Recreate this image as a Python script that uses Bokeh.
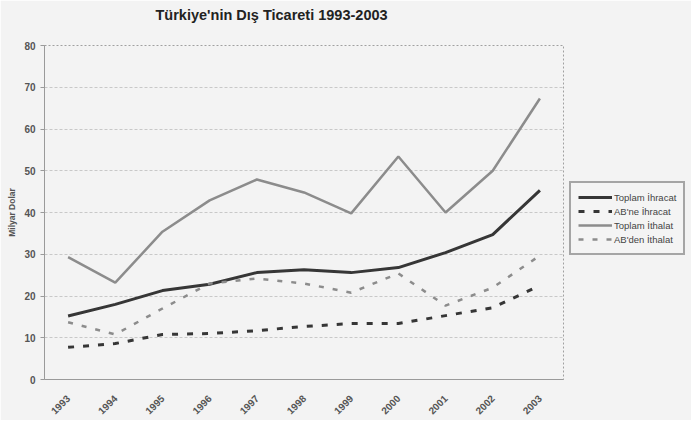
from bokeh.plotting import figure
from bokeh.models import FactorRange, Range1d, Legend, LegendItem, FixedTicker
from bokeh.embed import file_html
from bokeh.resources import INLINE
import math

years = ['1993', '1994', '1995', '1996', '1997', '1998', '1999', '2000', '2001', '2002', '2003']
toplam_ihracat = [15.2, 18.0, 21.3, 22.8, 25.6, 26.3, 25.6, 26.8, 30.4, 34.7, 45.3]
ab_ihracat = [7.7, 8.6, 10.8, 11.0, 11.7, 12.7, 13.4, 13.4, 15.3, 17.2, 22.5]
toplam_ithalat = [29.3, 23.2, 35.4, 42.9, 47.9, 44.8, 39.8, 53.4, 40.0, 50.0, 67.3]
ab_ithalat = [13.7, 10.8, 17.0, 23.0, 24.2, 23.0, 20.8, 25.4, 17.7, 22.0, 29.7]
y_ticks = [0, 10, 20, 30, 40, 50, 60, 70, 80]
title_text = "Türkiye'nin Dış Ticareti 1993-2003"

BG = "#f3f3f3"
p = figure(x_range=FactorRange(*years), y_range=Range1d(0, 80),
           frame_width=519, frame_height=334,
           min_border_left=44, min_border_right=120, min_border_top=45, min_border_bottom=38,
           output_backend="svg", toolbar_location=None, title=title_text + "\n",
           background_fill_color=BG, border_fill_color=BG)

p.title.text_font = "Liberation Sans"
p.title.text_font_size = "14.5px"
p.title.text_font_style = "bold"
p.title.text_color = "#222222"
p.title.align = "left"
p.title.offset = 111
p.title.standoff = 6
p.title.text_line_height = 1.25

p.outline_line_color = "#a0a0a0"
p.outline_line_dash = "2 2"
p.outline_line_width = 1

p.xgrid.grid_line_color = None
p.ygrid.grid_line_color = "#c8c8c8"
p.ygrid.grid_line_dash = "3 2"
p.ygrid.ticker = FixedTicker(ticks=y_ticks)

p.yaxis.ticker = FixedTicker(ticks=y_ticks)
p.yaxis.axis_label = "Milyar Dolar"
p.yaxis.axis_label_text_font = "Liberation Sans"
p.yaxis.axis_label_text_font_size = "8.5px"
p.yaxis.axis_label_text_font_style = "bold"
p.yaxis.axis_label_text_color = "#555555"
p.yaxis.axis_label_standoff = 4
for ax in (p.xaxis[0], p.yaxis[0]):
    ax.major_label_text_font = "Liberation Sans"
    ax.major_label_text_font_style = "bold"
    ax.major_label_text_color = "#555555"
    ax.axis_line_color = "#9a9a9a"
    ax.major_tick_line_color = "#9a9a9a"
    ax.minor_tick_line_color = None
    ax.major_tick_in = 0
p.yaxis.major_label_text_font_size = "10px"
p.yaxis.major_tick_out = 4
p.yaxis.major_label_standoff = 5
p.xaxis.major_label_text_font_size = "10px"
p.xaxis.major_label_orientation = math.pi / 4
p.xaxis.major_tick_out = 0
p.xaxis.major_label_standoff = 17

r1 = p.line(years, toplam_ihracat, line_color="#363636", line_width=3)
r2 = p.line(years, ab_ihracat, line_color="#363636", line_width=3, line_dash="6 9")
r3 = p.line(years, toplam_ithalat, line_color="#8c8c8c", line_width=2.5)
r4 = p.line(years, ab_ithalat, line_color="#8c8c8c", line_width=2.5, line_dash="5 9")

legend = Legend(items=[
    LegendItem(label="Toplam İhracat", renderers=[r1]),
    LegendItem(label="AB'ne İhracat", renderers=[r2]),
    LegendItem(label="Toplam İthalat", renderers=[r3]),
    LegendItem(label="AB'den İthalat", renderers=[r4]),
], location=(6, 124))
legend.margin = 0
legend.padding = 7
legend.spacing = 0
legend.glyph_width = 34
legend.glyph_height = 14
legend.label_height = 14
legend.label_standoff = 2
legend.label_text_font = "Liberation Sans"
legend.label_text_font_size = "9.5px"
legend.label_text_color = "#444444"
legend.border_line_color = "#555555"
legend.border_line_width = 2
legend.background_fill_color = BG
p.add_layout(legend, "right")

open("out.html", "w").write(file_html(p, INLINE))
